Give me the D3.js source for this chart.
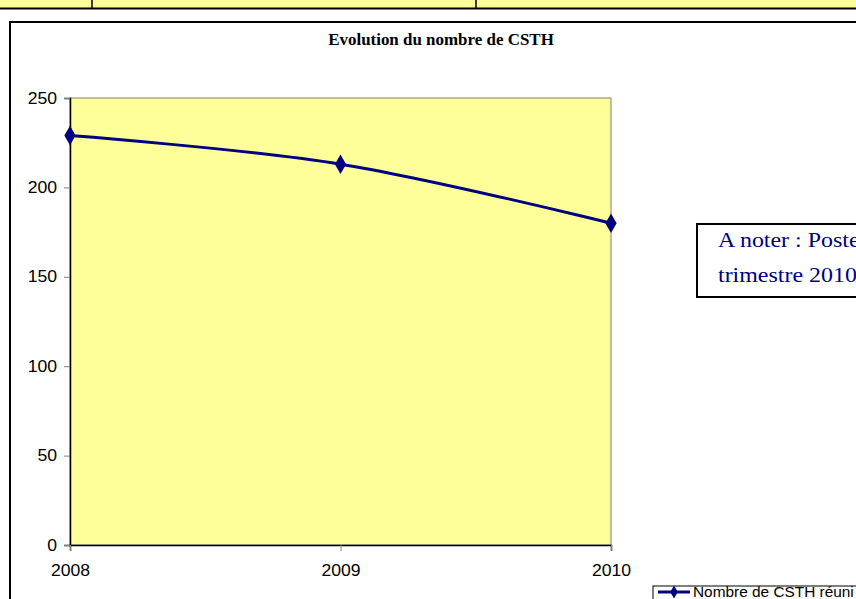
<!DOCTYPE html>
<html>
<head>
<meta charset="utf-8">
<script src="https://cdn.jsdelivr.net/npm/d3@7"></script>
<style>
  html, body { margin: 0; padding: 0; background: #fff; }
  svg { display: block; }
</style>
</head>
<body>
<svg id="chart" width="856" height="599"></svg>
<script>
// Number of CSTH meetings per year
const years = ["2008", "2009", "2010"];
const csthCounts = [229, 213, 180];
const yTicks = [0, 50, 100, 150, 200, 250];
const seriesName = "Nombre de CSTH réuni";
const chartTitle = "Evolution du nombre de CSTH";
const noteLines = ["A noter : Poste", "trimestre 2010"];

const SANS = "Liberation Sans, Arial, sans-serif";
const SERIF = "Liberation Serif, Times New Roman, serif";
const STRETCH = 1.1; // text in the chart is drawn slightly wide

const svg = d3.select("#chart");

// Places a text at (x, y) with a horizontal stretch around its anchor
function wideText(parent, x, y, sx) {
  return parent.append("text").attr("x", 0).attr("y", 0)
    .attr("transform", `translate(${x},${y}) scale(${sx},1)`);
}

// Table row strip across the top of the page
svg.append("rect").attr("x", 0).attr("y", 0).attr("width", 856).attr("height", 8).attr("fill", "#FFFF99");
svg.append("line").attr("x1", 0).attr("x2", 856).attr("y1", 8.5).attr("y2", 8.5).attr("stroke", "#000").attr("stroke-width", 2);
[92, 476].forEach(x => {
  svg.append("line").attr("x1", x).attr("x2", x).attr("y1", 0).attr("y2", 9).attr("stroke", "#000").attr("stroke-width", 1.5);
});

// Chart frame
svg.append("rect").attr("x", 10).attr("y", 22).attr("width", 900).attr("height", 700)
  .attr("fill", "#fff").attr("stroke", "#000").attr("stroke-width", 2);

// Title
wideText(svg, 441, 45, 1.06).attr("text-anchor", "middle")
  .attr("font-family", SERIF).attr("font-weight", "bold")
  .attr("font-size", 16).attr("fill", "#000").text(chartTitle);

// Plot area
const plot = { left: 70, right: 611, top: 98, bottom: 545 };
const x = d3.scalePoint().domain(years).range([plot.left, plot.right]).padding(0);
const y = d3.scaleLinear().domain([0, 250]).range([plot.bottom, plot.top]);

svg.append("rect").attr("x", plot.left).attr("y", plot.top)
  .attr("width", plot.right - plot.left).attr("height", plot.bottom - plot.top)
  .attr("fill", "#FFFF99").attr("stroke", "#808080").attr("stroke-width", 1);

// Y axis
const yAxis = svg.append("g").attr("transform", `translate(${plot.left},0)`)
  .call(d3.axisLeft(y).tickValues(yTicks).tickSize(6).tickPadding(7));
yAxis.select(".domain").attr("stroke", "#000").attr("stroke-width", 1.5);
yAxis.selectAll(".tick line").attr("stroke", "#808080");
yAxis.selectAll(".tick text")
  .attr("x", 0).attr("transform", `translate(-13,0) scale(${STRETCH},1)`)
  .attr("font-family", SANS).attr("font-size", 16).attr("fill", "#000");

// X axis
const xAxis = svg.append("g").attr("transform", `translate(0,${plot.bottom})`)
  .call(d3.axisBottom(x).tickSize(6).tickPadding(14));
xAxis.select(".domain").attr("stroke", "#000").attr("stroke-width", 1.5);
xAxis.selectAll(".tick line").attr("stroke", "#808080");
xAxis.selectAll(".tick text")
  .attr("transform", `scale(${STRETCH},1)`)
  .attr("font-family", SANS).attr("font-size", 16).attr("fill", "#000");

// Smoothed series line
const data = years.map((yr, i) => ({ year: yr, value: csthCounts[i] }));
const line = d3.line().x(d => x(d.year)).y(d => y(d.value)).curve(d3.curveCardinal.tension(0));
svg.append("path").datum(data).attr("d", line)
  .attr("fill", "none").attr("stroke", "#000080").attr("stroke-width", 3);

const diamond = d3.symbol().type(d3.symbolDiamond).size(110);
svg.selectAll(".pt").data(data).enter().append("path").attr("class", "pt")
  .attr("d", diamond).attr("transform", d => `translate(${x(d.year)},${y(d.value)})`)
  .attr("fill", "#000080");

// Note box
svg.append("rect").attr("x", 697).attr("y", 224).attr("width", 200).attr("height", 73)
  .attr("fill", "#fff").attr("stroke", "#000").attr("stroke-width", 2);
noteLines.forEach((t, i) => {
  wideText(svg, 718, 247 + i * 35, 1.14)
    .attr("font-family", SERIF).attr("font-size", 21).attr("fill", "#000080").text(t);
});

// Legend
svg.append("rect").attr("x", 653).attr("y", 586).attr("width", 260).attr("height", 40)
  .attr("fill", "#fff").attr("stroke", "#000").attr("stroke-width", 1);
svg.append("line").attr("x1", 658).attr("x2", 690).attr("y1", 592).attr("y2", 592)
  .attr("stroke", "#000080").attr("stroke-width", 3);
svg.append("path").attr("d", d3.symbol().type(d3.symbolDiamond).size(50))
  .attr("transform", "translate(674,592)").attr("fill", "#000080");
wideText(svg, 693, 597, STRETCH).attr("font-family", SANS)
  .attr("font-size", 14).attr("fill", "#000").text(seriesName);
</script>
</body>
</html>
